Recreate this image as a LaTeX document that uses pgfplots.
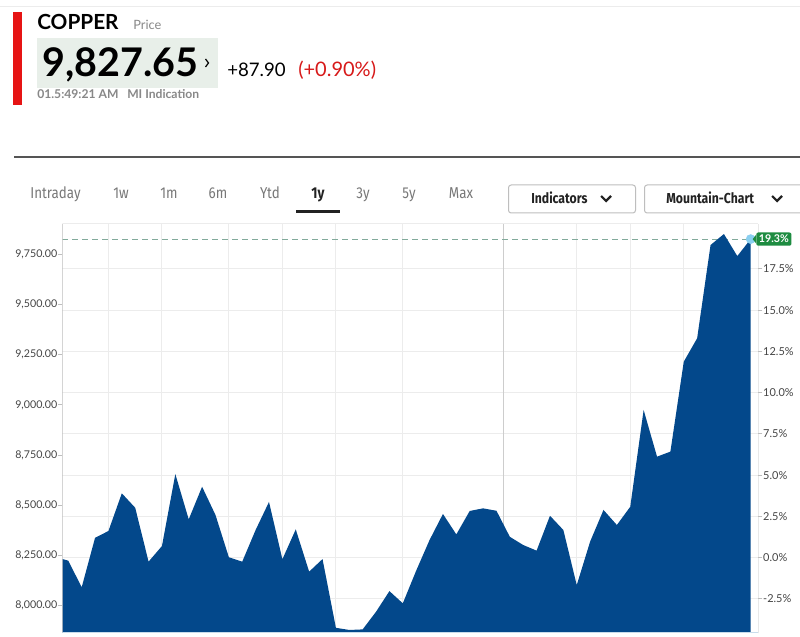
\documentclass[border=0pt]{standalone}
\usepackage{pgfplots}
\pgfplotsset{compat=1.18}
\usepackage{fontspec}
\setmainfont{Lato}
\newfontfamily\tabfont[FakeStretch=0.85]{Fira Sans}
\definecolor{fillc}{RGB}{3,72,139}
\definecolor{gridc}{RGB}{236,236,236}
\definecolor{griddark}{RGB}{205,205,205}
\definecolor{axc}{RGB}{190,190,190}
\definecolor{dashc}{RGB}{130,170,155}
\definecolor{dotc}{RGB}{137,207,240}
\definecolor{greenl}{RGB}{30,140,65}
\definecolor{redbar}{RGB}{230,20,20}
\definecolor{redtxt}{RGB}{215,25,25}
\definecolor{graytxt}{RGB}{136,136,136}
\definecolor{tabgray}{RGB}{120,120,120}
\definecolor{boxbg}{RGB}{232,239,233}
\definecolor{sepc}{RGB}{85,85,85}
\definecolor{btnc}{RGB}{190,190,190}
\definecolor{labc}{RGB}{68,68,68}
\definecolor{bottomc}{RGB}{200,220,235}
\definecolor{darktxt}{RGB}{34,34,34}
\begin{document}
\begin{tikzpicture}[x=0.75pt,y=0.75pt]
\path[use as bounding box, fill=white] (0,0) rectangle (800,636);
% header
\draw[color=gridc, line width=0.75pt] (0,629) -- (800,629);
\fill[redbar] (13.3,531) rectangle (21.7,624);
\node[anchor=base west, inner sep=0pt, font=\fontsize{15.6}{17}\selectfont\bfseries] at (37,606) {COPPER};
\node[anchor=base west, inner sep=0pt, font=\fontsize{9.6}{10}\selectfont, text=graytxt] at (133,606) {Price};
\fill[boxbg] (37,548) rectangle (218,598);
\node[anchor=base west, inner sep=0pt, font=\fontsize{29.6}{31}\selectfont\bfseries] at (42,559) {9,827.65};
\draw[line width=0.9pt] (205.5,577) -- (208.5,573) -- (205.5,569);
\node[anchor=base west, inner sep=0pt, font=\fontsize{14}{15}\selectfont] at (227,559) {+87.90};
\node[anchor=base west, inner sep=0pt, font=\fontsize{15}{16}\selectfont, text=redtxt] at (298,559) {(+0.90\%)};
\node[anchor=base west, inner sep=0pt, font=\fontsize{9.1}{10}\selectfont\bfseries, text=graytxt] at (37,537) {01.5:49:21 AM};
\node[anchor=base west, inner sep=0pt, font=\fontsize{9.1}{10}\selectfont\bfseries, text=graytxt] at (127,537) {MI Indication};
\draw[color=sepc, line width=0.9pt] (14,479) -- (800,479);
% tabs
\foreach \cx/\t in {55.5/Intraday,121/1w,169/1m,218/6m,270/Ytd,363/3y,409/5y,461/Max}
  \node[anchor=base, inner sep=0pt, font=\tabfont\fontsize{11.8}{13}\selectfont, text=tabgray] at (\cx,437) {\t};
\node[anchor=base, inner sep=0pt, font=\tabfont\fontsize{11.8}{13}\selectfont\bfseries, text=darktxt] at (318,437) {1y};
\fill[darktxt] (296,423) rectangle (340,425.5);
\draw[color=btnc, line width=0.75pt, rounded corners=2pt] (508.5,423) rectangle (635.5,451);
\node[anchor=base west, inner sep=0pt, font=\tabfont\fontsize{10.8}{12}\selectfont\bfseries, text=darktxt] at (531,432) {Indicators};
\draw[line width=1.6pt, color=darktxt] (601,440) -- (606,435) -- (611,440);
\draw[color=btnc, line width=0.75pt, rounded corners=2pt] (801,451) -- (644.5,451) -- (644.5,423) -- (801,423);
\node[anchor=base west, inner sep=0pt, font=\tabfont\fontsize{10.8}{12}\selectfont\bfseries, text=darktxt] at (666,432) {Mountain-Chart};
\draw[line width=1.6pt, color=darktxt] (772,440) -- (777,435) -- (782,440);
% percent axis (grid + right labels)
\begin{axis}[
  at={(46.725pt,2.25pt)}, anchor=south west, width=522pt, height=306.75pt, scale only axis,
  xmin=-0.4484, xmax=51.57, ymin=-4.5606, ymax=20.2156,
  axis line style={draw=none},
  xtick={3,7,12,16,20,25,38,42,46}, xticklabels={},
  extra x ticks={32.5}, extra x tick labels={},
  extra x tick style={major grid style={color=griddark, line width=0.75pt}},
  x tick style={draw=none},
  xmajorgrids, ymajorgrids,
  major grid style={color=gridc, line width=0.75pt},
  ytick={-2.5,0,2.5,5,7.5,10,12.5,15,17.5},
  yticklabels={-2.5\%,0.0\%,2.5\%,5.0\%,7.5\%,10.0\%,12.5\%,15.0\%,17.5\%},
  ytick pos=right, yticklabel pos=right, tick align=outside, major tick length=3pt,
  y tick style={color=axc, line width=0.75pt},
  yticklabel style={font=\fontsize{8.2}{9}\selectfont, text=labc, anchor=west, inner sep=0pt, xshift=0.5pt},
]
\draw[color=axc, line width=0.9pt] (rel axis cs:1,0) -- (rel axis cs:1,1);
\draw[color=gridc, line width=0.75pt] (rel axis cs:0,1) -- (rel axis cs:1,1);
\end{axis}
% price axis (area + left labels)
\begin{axis}[
  at={(46.725pt,2.25pt)}, anchor=south west, width=522pt, height=306.75pt, scale only axis,
  xmin=-0.4484, xmax=51.57, ymin=7862, ymax=9903,
  axis line style={draw=none},
  xtick=\empty,
  ytick={8000,8250,8500,8750,9000,9250,9500,9750},
  yticklabels={{8,000.00},{8,250.00},{8,500.00},{8,750.00},{9,000.00},{9,250.00},{9,500.00},{9,750.00}},
  ytick pos=left, tick align=outside, major tick length=3pt,
  y tick style={color=axc, line width=0.75pt},
  yticklabel style={font=\fontsize{8}{9}\selectfont, text=labc, anchor=east, inner sep=0pt, xshift=-0.5pt},
]
\addplot[color=dashc, line width=0.75pt, dash pattern=on 4.5pt off 3pt] coordinates {(-0.4484,9827.65) (51,9827.65)};
\addplot[fill=fillc, draw=none] coordinates {
(-1,7700) (-1,8241) (0,8223) (1,8090) (2,8337) (3,8371) (4,8559) (5,8487) (6,8218) (7,8296)
(8,8655) (9,8429) (10,8592) (11,8451) (12,8240) (13,8218) (14,8376) (15,8516) (16,8230)
(17,8379) (18,8168) (19,8231) (20,7888) (21,7877) (22,7880) (23,7968) (24,8071) (25,8010)
(26,8173) (27,8326) (28,8456) (29,8354) (30,8471) (31,8484) (32,8472) (33,8342) (34,8301)
(35,8273) (36,8447) (37,8376) (38,8101) (39,8318) (40,8476) (41,8401) (42,8492) (43,8975)
(44,8742) (45,8767) (46,9216) (47,9333) (48,9798) (49,9853) (50,9743) (51,9827.65) (51,7700)
} -- cycle;
\addplot[color=dotc, only marks, mark=*, mark size=3.4pt, mark options={fill=dotc, draw=dotc}] coordinates {(51,9827.65)};
\coordinate (endpt) at (axis cs:51,9827.65);
\draw[color=axc, line width=0.9pt] (rel axis cs:0,0) -- (rel axis cs:0,1);
\draw[color=bottomc, line width=1pt] (rel axis cs:0,0) -- (rel axis cs:1,0);
\end{axis}
\node[fill=greenl, text=white, font=\fontsize{8}{9}\selectfont\bfseries, inner xsep=2pt, inner ysep=2pt, rounded corners=1.5pt, anchor=west] (lbl) at ([xshift=4pt]endpt) {19.3\%};
\fill[greenl] ([xshift=1.5pt]endpt) -- ([yshift=-2pt]lbl.north west) -- ([yshift=2pt]lbl.south west) -- cycle;
\end{tikzpicture}
\end{document}
